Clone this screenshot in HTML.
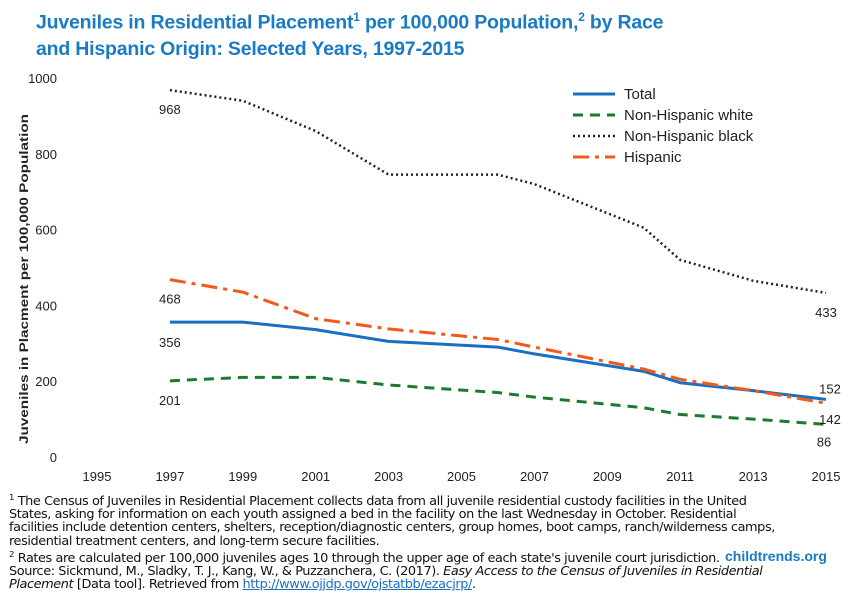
<!DOCTYPE html>
<html><head><meta charset="utf-8"><style>
body{margin:0;width:850px;height:594px;background:#fff;font-family:"Liberation Sans",sans-serif;overflow:hidden;position:relative}
#title{position:absolute;left:36px;top:4px;color:#1a7bc4;font-weight:bold;font-size:19.5px;line-height:26px;letter-spacing:-0.2px}
#title sup{font-size:12px}
#notes{position:absolute;left:9px;top:491px;font-size:12px;line-height:13.2px;color:#111;transform:scaleX(1.0);transform-origin:0 0;white-space:nowrap;letter-spacing:-0.35px;font-family:"DejaVu Sans Condensed","Liberation Sans",sans-serif}
#notes a{color:#1a6fc0}
#brand{position:absolute;left:725px;top:548px;color:#1a7bc4;font-weight:bold;font-size:14px}
svg{position:absolute;left:0;top:0}
</style></head><body>
<div id="title">Juveniles in Residential Placement<sup>1</sup> per 100,000 Population,<sup>2</sup> by Race<br>and Hispanic Origin: Selected Years, 1997-2015</div>
<svg id="chart" width="850" height="594"></svg>
<div id="notes"><div id="l1"><sup style="font-size:8px">1</sup> The Census of Juveniles in Residential Placement collects data from all juvenile residential custody facilities in the United</div><div>States, asking for information on each youth assigned a bed in the facility on the last Wednesday in October. Residential</div><div>facilities include detention centers, shelters, reception/diagnostic centers, group homes, boot camps, ranch/wilderness camps,</div><div>residential treatment centers, and long-term secure facilities.</div><div><sup style="font-size:8px">2</sup> Rates are calculated per 100,000 juveniles ages 10 through the upper age of each state's juvenile court jurisdiction.</div><div>Source: Sickmund, M., Sladky, T. J., Kang, W., &amp; Puzzanchera, C. (2017). <i>Easy Access to the Census of Juveniles in Residential</i></div><div><i>Placement</i> [Data tool]. Retrieved from <a style="text-decoration:underline">http://www.ojjdp.gov/ojstatbb/ezacjrp/</a>.</div></div>
<div id="brand">childtrends.org</div>
<script>
const years=[1997,1999,2001,2003,2006,2007,2010,2011,2013,2015];
const total=[356,356,336,305,290,272,226,196,175,152];
const white=[201,210,210,190,170,158,130,112,100,86];
const black=[968,940,860,745,745,720,605,520,465,433];
const hispanic=[468,435,365,338,310,290,232,205,175,142];
const xTicks=[1995,1997,1999,2001,2003,2005,2007,2009,2011,2013,2015];
const yTicks=[0,200,400,600,800,1000];
const seriesNames=["Total","Non-Hispanic white","Non-Hispanic black","Hispanic"];
// fit footnote width to reference (first line spans ~766px)
(function(){const n=document.getElementById('notes');const l=document.getElementById('l1');
const w=l.scrollWidth;n.style.transform='scaleX('+(766/w)+')';})();
const X=v=>97+(v-1995)*(826-97)/20;
const Y=v=>457-v*(457-78)/1000;
const svg=document.getElementById('chart');
const NS='http://www.w3.org/2000/svg';
function mk(t,a){const e=document.createElementNS(NS,t);for(const k in a)e.setAttribute(k,a[k]);svg.appendChild(e);return e;}
xTicks.forEach(t=>{const e=mk('text',{x:X(t),y:481,'text-anchor':'middle','font-size':13,fill:'#222'});e.textContent=t;

});
yTicks.forEach(t=>{const e=mk('text',{x:57,y:Y(t)+5,'text-anchor':'end','font-size':13,fill:'#222'});e.textContent=t;

});
const yt=mk('text',{x:0,y:0,transform:'translate(28,279) rotate(-90)','text-anchor':'middle','font-size':11.5,'font-weight':'bold',fill:'#222',textLength:330,lengthAdjust:'spacingAndGlyphs'});
yt.textContent='Juveniles in Placment per 100,000 Population';


const styles=[{c:'#1a6fc0',d:'',w:3},{c:'#1a7a2e',d:'10,7',w:3},{c:'#222',d:'2,3',w:2.5},{c:'#f05a1a',d:'16,6,4,6',w:3}];
const data=[total,white,black,hispanic];
const names=['total-line','white-line','black-line','hispanic-line'];
data.forEach((s,i)=>{const p=mk('polyline',{points:years.map((y,j)=>X(y)+','+Y(s[j])).join(' '),fill:'none',stroke:styles[i].c,'stroke-width':styles[i].w,'stroke-dasharray':styles[i].d});

});
const lab=(v,x,y)=>{const e=mk('text',{x:x,y:y,'text-anchor':'middle','font-size':13,fill:'#222'});e.textContent=v;

};
const f=years.length-1;
lab(black[0],X(1997),Y(black[0])+24);
lab(hispanic[0],X(1997),Y(hispanic[0])+24);
lab(total[0],X(1997),Y(total[0])+25);
lab(white[0],X(1997),Y(white[0])+24);
lab(black[f],X(2015),Y(black[f])+24);
lab(total[f],X(2015)+4,Y(total[f])-6);
lab(hispanic[f],X(2015)+4,Y(hispanic[f])+21);
lab(white[f],X(2015)-2,Y(white[f])+22);
seriesNames.forEach((n,i)=>{const y=94+i*21;
const l=mk('line',{x1:573,x2:615,y1:y,y2:y,stroke:styles[i].c,'stroke-width':styles[i].w,'stroke-dasharray':styles[i].d});


const t=mk('text',{x:624,y:y+5,'font-size':15,fill:'#222'});t.textContent=n;

});
</script>
</body></html>
